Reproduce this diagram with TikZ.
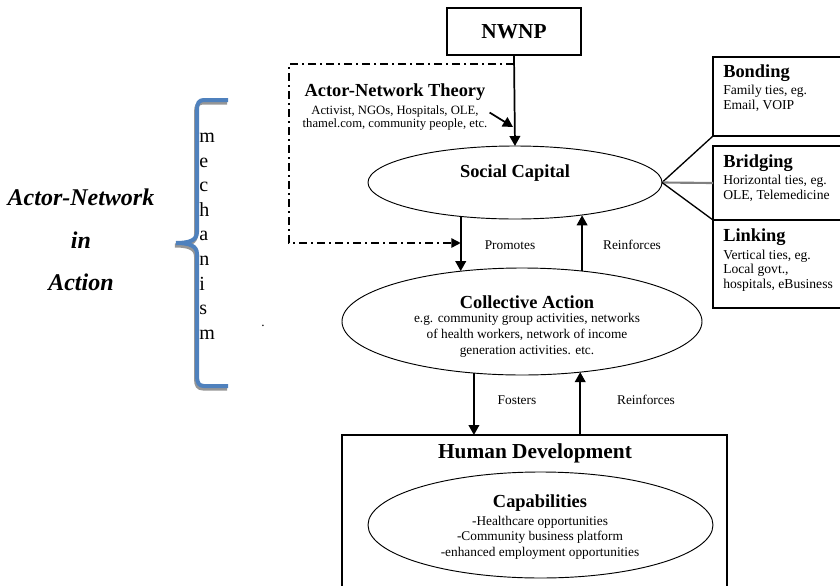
\documentclass[tikz,border=0pt]{standalone}
\usepackage{fontspec}
\setmainfont{Liberation Serif}
\usetikzlibrary{shapes.geometric,arrows.meta,calc}
\definecolor{braceblue}{RGB}{79,129,189}
\definecolor{braceshade}{RGB}{150,150,150}
\newcommand\ttlfont{\fontsize{13.8}{16}\selectfont\bfseries}
\newcommand\bigttlfont{\fontsize{16}{19}\selectfont\bfseries}
\newcommand\smlfont{\fontsize{10}{12}\selectfont}
\tikzset{
  oval/.style={ellipse, draw, line width=0.7pt, inner sep=0pt, outer sep=0pt},
  framebox/.style={rectangle, draw, line width=1.1pt, inner sep=0pt, outer sep=0pt},
  txt/.style={inner sep=0pt, align=center},
  flow/.style={line width=1.3pt, -{Triangle[length=7.5pt,width=8pt]}},
  tie/.style={line width=1pt},
  antline/.style={line width=1.1pt, dash pattern=on 6pt off 3pt on 1.5pt off 3pt,
    -{Triangle[length=7pt,width=7pt]}},
}
\begin{document}
\begin{tikzpicture}[x=0.75pt, y=-0.75pt]
  \useasboundingbox (0,0) rectangle (840,586);
  % left label, brace and letters
  \node[txt, font=\fontsize{18}{32}\selectfont\bfseries\itshape] (antlabel) at (81,240) {Actor-Network\\in\\Action};
  \foreach \bcol/\off in {braceshade/2.5, braceblue/0}
    \draw[\bcol, line width=3pt, shift={(-0.4*\off,\off)}]
      (228,100) -- (204,100) .. controls (199,100) and (197,103) .. (197,110)
      -- (197,232) .. controls (197,240) and (190,243) .. (176,243)
      .. controls (190,243) and (197,246) .. (197,254)
      -- (197,376) .. controls (197,383) and (199,386) .. (204,386) -- (228,386);
  \foreach \ch [count=\i] in {m,e,c,h,a,n,i,s,m}
    \node[txt, anchor=base west, font=\fontsize{15}{15}\selectfont] (mech\i) at (199,{117.9+24.6*\i}) {\ch};
  \node[txt, font=\smlfont] (dot) at (263,326) {.};

  % top part
  \node[framebox, minimum width=100.5pt, minimum height=35.25pt, font=\bigttlfont] (nwnp) at (514,31.5) {NWNP};
  \node[txt, font=\ttlfont] (anttitle) at (395,92.5) {Actor-Network Theory};
  \node[txt, font=\fontsize{9.5}{9.75}\selectfont] (antdesc) at (395,117.5) {Activist, NGOs, Hospitals, OLE,\\thamel.com, community people, etc.};
  \node[oval, minimum width=220.5pt, minimum height=54.75pt] (social) at (515,182.5) {};
  \node[txt, font=\ttlfont] (socialtitle) at (515,173) {Social Capital};

  % ties
  \node[framebox, minimum width=102.75pt, minimum height=59.25pt] (bonding) at (781.5,96.5) {};
  \node[framebox, minimum width=102.75pt, minimum height=55.5pt] (bridging) at (781.5,183) {};
  \node[framebox, minimum width=102.75pt, minimum height=66pt] (linking) at (781.5,264) {};
  \node[txt, anchor=west, font=\ttlfont] (bondtitle) at (723,73) {Bonding};
  \node[txt, anchor=west, align=left, font=\fontsize{10.2}{11}\selectfont] (bonddesc) at (723,98.5) {Family ties, eg.\\Email, VOIP};
  \node[txt, anchor=west, font=\ttlfont] (bridgetitle) at (723,163) {Bridging};
  \node[txt, anchor=west, align=left, font=\fontsize{10.2}{11}\selectfont] (bridgedesc) at (723,188.5) {Horizontal ties, eg.\\OLE, Telemedicine};
  \node[txt, anchor=west, font=\ttlfont] (linktitle) at (723,237) {Linking};
  \node[txt, anchor=west, align=left, font=\fontsize{10.2}{11}\selectfont] (linkdesc) at (723,270.5) {Vertical ties, eg.\\Local govt.,\\hospitals, eBusiness};
  \draw[tie] (social.east) -- (bonding.south west);
  \draw[tie, gray, line width=1.6pt] (social.east) -- (bridging.west);
  \draw[tie] (social.east) -- (bridging.south west);

  % middle and bottom
  \node[oval, minimum width=270pt, minimum height=80.25pt] (collective) at (522,321.5) {};
  \node[txt, font=\ttlfont] (colltitle) at (527,302) {Collective Action};
  \node[txt, font=\smlfont] (colldesc) at (527,335) {e.g. community group activities, networks\\of health workers, network of income\\generation activities. etc.};
  \node[framebox, minimum width=288.75pt, minimum height=138.75pt] (hd) at (534.5,527.5) {};
  \node[txt, font=\bigttlfont] (hdtitle) at (535,453) {Human Development};
  \node[oval, minimum width=258.75pt, minimum height=79.5pt] (capab) at (540.5,525) {};
  \node[txt, font=\ttlfont] (capabtitle) at (540,503) {Capabilities};
  \node[txt, font=\fontsize{10}{11.6}\selectfont] (capabdesc) at (540,537.5) {-Healthcare opportunities\\-Community business platform\\-enhanced employment opportunities};

  % arrows
  \coordinate (antTip) at (513,127);
  \coordinate (antTL) at (289,64);
  \coordinate (antBL) at (289,243);
  \draw[flow] (nwnp.south) -- (social.north);
  \draw[flow] ($(antdesc.east)+(2,-5)$) -- (antTip);
  \draw[antline] (nwnp.south |- antTL) -- (antTL) -- (antBL) -- (antBL -| social.212.2);
  \draw[flow] (social.212.2) -- (social.212.2 |- collective.140.5);
  \draw[flow] (collective.40.6) -- (collective.40.6 |- social.333.7);
  \draw[flow] (collective.227.1) -- (collective.227.1 |- hd.north);
  \draw[flow] (collective.319.4 |- hd.north) -- (collective.319.4);
  \node[txt, font=\smlfont] (promotes) at (510,245) {Promotes};
  \node[txt, font=\smlfont] (reinforcesup) at (632,245) {Reinforces};
  \node[txt, font=\smlfont] (fosters) at (517,400) {Fosters};
  \node[txt, font=\smlfont] (reinforceslow) at (646,400) {Reinforces};
\end{tikzpicture}
\end{document}
